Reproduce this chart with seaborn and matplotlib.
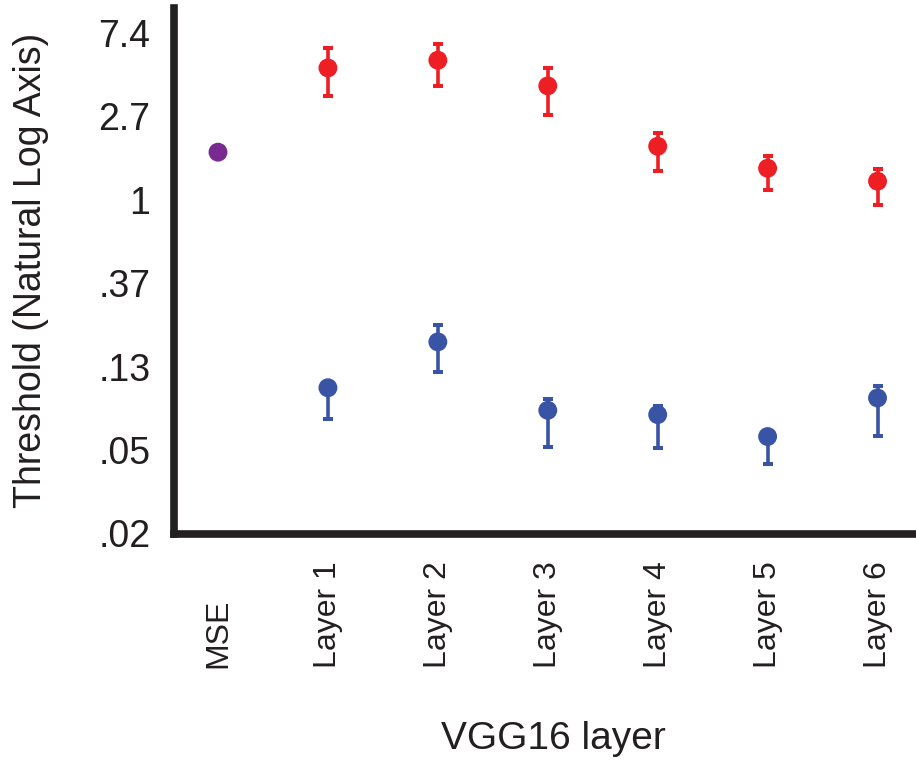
import numpy as np
import pandas as pd
import matplotlib
matplotlib.use("Agg")
import matplotlib.pyplot as plt
import seaborn as sns

# ---- data -------------------------------------------------------------
categories = ["MSE", "Layer 1", "Layer 2", "Layer 3", "Layer 4", "Layer 5", "Layer 6"]
layers = categories[1:]

mse_threshold = [1.77]

high_mean = [4.86, 5.33, 3.92, 1.90, 1.46, 1.25]
high_lower = [3.46, 3.91, 2.78, 1.41, 1.12, 0.936]
high_upper = [6.17, 6.51, 4.84, 2.23, 1.69, 1.45]

low_mean = [0.105, 0.182, 0.0801, 0.0761, 0.0585, 0.0929]
low_lower = [0.0722, 0.127, 0.0513, 0.0508, 0.0420, 0.0592]
low_upper = [0.108, 0.222, 0.0923, 0.0841, 0.0605, 0.107]

ytick_exponents = [-4, -3, -2, -1, 0, 1, 2]
ytick_labels = [".02", ".05", ".13", ".37", "1", "2.7", "7.4"]

# ---- style ------------------------------------------------------------
sns.set_theme(style="white")
plt.rcParams["font.family"] = ["Liberation Sans", "DejaVu Sans"]

RED = "#ed1f24"
BLUE = "#3954a5"
PURPLE = "#782a90"
INK = "#231f20"

pos = {c: i for i, c in enumerate(categories)}
df = pd.concat([
    pd.DataFrame({"layer": ["MSE"], "threshold": mse_threshold, "series": "mse"}),
    pd.DataFrame({"layer": layers, "threshold": high_mean, "series": "high"}),
    pd.DataFrame({"layer": layers, "threshold": low_mean, "series": "low"}),
], ignore_index=True)
df["x"] = df["layer"].map(pos)

fig = plt.figure(figsize=(9.16, 7.61), dpi=100)
ax = fig.add_axes([0.19, 0.298, 0.81, 0.6915])

ax.set_yscale("log", base=np.e)

# error bars (asymmetric in linear units)
for mean, lo, hi, col in [(high_mean, high_lower, high_upper, RED),
                          (low_mean, low_lower, low_upper, BLUE)]:
    m = np.array(mean)
    xs = [pos[c] for c in layers]
    ax.errorbar(xs, m, yerr=[m - np.array(lo), np.array(hi) - m],
                fmt="none", ecolor=col, elinewidth=2.6,
                capsize=3.4, capthick=2.9, zorder=2)

sns.scatterplot(data=df, x="x", y="threshold", hue="series",
                palette={"mse": PURPLE, "high": RED, "low": BLUE},
                s=185, linewidth=0, legend=False, ax=ax, zorder=3)

ax.set_xlim(-0.4, 6.35)
ax.set_ylim(np.exp(-4.01), np.exp(2.3))

ax.set_yticks(np.exp(ytick_exponents))
ax.set_yticklabels(ytick_labels)
ax.yaxis.set_minor_locator(matplotlib.ticker.NullLocator())
ax.set_xticks(range(len(categories)))
ax.set_xticklabels(categories, rotation=90, va="bottom", ha="center")

ax.tick_params(axis="y", length=0, pad=17, labelsize=27, colors=INK)
ax.tick_params(axis="x", length=0, pad=96, labelsize=23, colors=INK)

ax.set_xlabel("VGG16 layer", fontsize=28, color=INK)
ax.xaxis.set_label_coords(0.512, -0.355)
ax.set_ylabel("Threshold (Natural Log Axis)", fontsize=27, color=INK)
ax.yaxis.set_label_coords(-0.168, 0.502)

for side in ["top", "right"]:
    ax.spines[side].set_visible(False)
for side in ["left", "bottom"]:
    ax.spines[side].set_linewidth(5.5)
    ax.spines[side].set_color(INK)
    ax.spines[side].set_capstyle("projecting")

ax.grid(False)
fig.savefig("out.png", dpi=100, facecolor="white")
